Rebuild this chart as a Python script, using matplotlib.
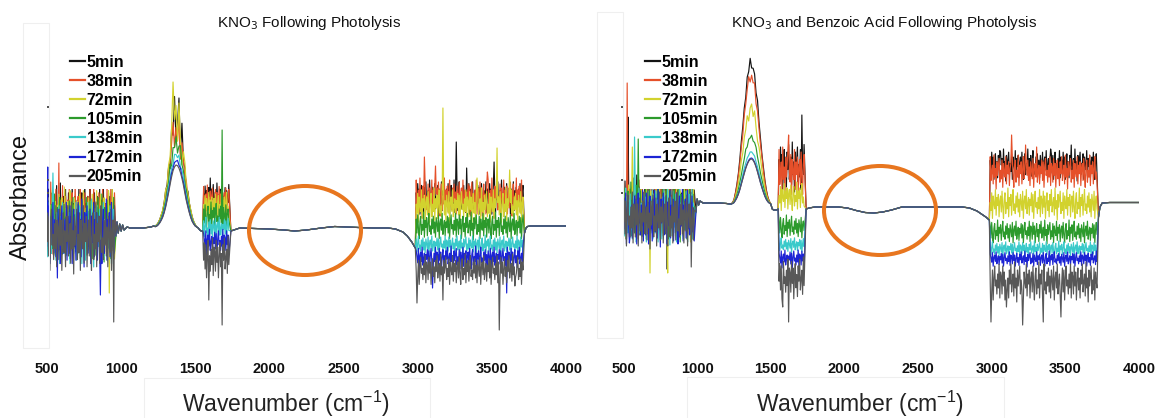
import numpy as np
import matplotlib
matplotlib.use("Agg")
import matplotlib.pyplot as plt
from matplotlib.patches import Ellipse, Rectangle

W, H = 1157, 418
plt.rcParams['font.family'] = ['Liberation Sans', 'DejaVu Sans']

# ---------------- data ----------------
SERIES = ["5min", "38min", "72min", "105min", "138min", "172min", "205min"]
COLORS = ["#141414", "#E5502A", "#D2D22E", "#2C9A2C", "#3ACACA", "#1C24D4", "#585858"]
TICKS = [500, 1000, 1500, 2000, 2500, 3000, 3500, 4000]

# hand-read jagged detector-noise pattern (shared shape of the noisy bands)
JAG = [0.3, -0.6, 0.8, -0.2, 0.5, -0.9, 0.1, 0.7, -0.4, 0.2,
       -0.8, 0.6, -0.1, 0.9, -0.5, 0.0, 0.4, -0.7, 1.0, -0.3,
       0.2, -1.0, 0.6, -0.2, 0.3, 0.8, -0.6, 0.1, -0.4, 0.7,
       -0.9, 0.5, 0.0, -0.3, 0.9, -0.7, 0.4, -0.1, 0.6, -0.8,
       0.2, 0.5, -0.5, 0.8, -0.2, -0.9, 0.3, 0.7, -0.6, 0.1,
       -0.3, 1.0, -0.8, 0.4, -0.1, 0.6, -0.7, 0.2, 0.9, -0.4,
       0.0, -0.6, 0.5, -0.2, 0.7, -0.5, 0.3, -0.8, 0.6, 0.1,
       -0.4, 0.8, -0.9, 0.2, 0.5, -0.3, 0.9, -0.6, 0.0, 0.4,
       -0.7, 0.3, -0.1, 0.7, -0.5, 0.6, -0.9, 0.2, 0.8, -0.2,
       0.1, -0.6, 0.4, -0.3, 0.9, -0.8, 0.5]
SHIFT = [0, 13, 27, 41, 55, 68, 82]

PEAK_WN = [1230, 1240, 1250, 1260, 1270, 1280, 1290, 1300, 1310, 1320,
           1330, 1340, 1350, 1360, 1370, 1380, 1390, 1400, 1410, 1420,
           1430, 1440, 1450, 1460, 1470, 1480, 1490, 1500]

# ----- left panel: KNO3 -----
L_R1 = (500, 958)
L_R1_CENTRE = [0.10, 0.10, 0.05, 0.00, -0.05, -0.05, -0.10]
L_R1_SPREAD = [0.36, 0.36, 0.36, 0.34, 0.34, 0.34, 0.36]
L_A_WN = [964, 972, 980, 990, 1000, 1010, 1020, 1040, 1060, 1100, 1150, 1200, 1220]
L_A = [-0.08, 0.06, -0.05, 0.04, -0.03, 0.03, -0.02, 0.01, 0.0, 0.0, 0.0, 0.01, 0.02]
L_PEAK_BASE = 0.0
L_PEAK_SHAPE = [0.02, 0.03, 0.05, 0.08, 0.12, 0.17, 0.24, 0.33, 0.44, 0.56,
                0.69, 0.81, 0.91, 0.97, 1.00, 0.99, 0.95, 0.88, 0.79, 0.68,
                0.55, 0.43, 0.33, 0.24, 0.16, 0.10, 0.06, 0.03]
L_PEAK_HEIGHT = [1.05, 0.98, 1.05, 0.84, 0.73, 0.67, 0.63]
L_PEAK_JAG = [0.35, 0.25, 0.35, 0.12, 0.05, 0.02, 0.0]
L_B_WN = [1510, 1520, 1530, 1540, 1550]
L_B = [0.01, 0.0, -0.02, -0.03, -0.03]
L_R2 = (1556, 1730)
L_R2_CENTRE = [0.30, 0.28, 0.22, 0.12, 0.0, -0.14, -0.30]
L_R2_SPREAD = [0.15, 0.15, 0.15, 0.14, 0.12, 0.14, 0.22]
L_C_WN = [1740, 1760, 1800, 1900, 2000, 2100, 2170, 2250, 2350, 2440, 2520, 2600,
          2700, 2800, 2850, 2900, 2930, 2960, 2984]
L_C = [-0.03, -0.02, 0.0, -0.005, -0.01, -0.02, -0.03, -0.02, 0.0, 0.015, 0.01, 0.005,
       0.0, 0.0, -0.01, -0.04, -0.08, -0.14, -0.2]
L_R3 = (2990, 3710)
L_R3_CENTRE = [0.30, 0.30, 0.22, 0.02, -0.17, -0.30, -0.42]
L_R3_SPREAD = [0.18, 0.20, 0.18, 0.14, 0.10, 0.12, 0.16]
L_D_WN = [3720, 3730, 3740, 3760, 3800, 3900, 4000]
L_D = [-0.05, 0.0, 0.015, 0.02, 0.02, 0.02, 0.02]
L_SPIKES = [(2, 3170, 1.20), (0, 3260, 0.86), (1, 3044, 0.71), (0, 3516, 0.66),
            (2, 3537, 0.80), (2, 3400, 0.50), (6, 3550, -1.02), (6, 2996, -0.75),
            (6, 3170, -0.72), (6, 3660, -0.49), (5, 3100, -0.60), (5, 3600, -0.65),
            (1, 3120, 0.62), (0, 3330, 0.60), (2, 3620, 0.58), (1, 3470, 0.56),
            (3, 1680, 0.98), (6, 1682, -0.97), (6, 1590, -0.72), (0, 1600, 0.50),
            (1, 578, 0.65), (5, 506, 0.61), (6, 952, -0.94), (2, 920, -0.65),
            (5, 860, -0.67), (5, 572, -0.50), (4, 540, 0.55), (0, 590, 0.45),
            (2, 1350, 1.46), (0, 1390, 1.30)]

# ----- right panel: KNO3 + benzoic acid -----
R_R1 = (500, 984)
R_R1_CENTRE = [0.02, 0.0, -0.05, -0.05, -0.08, -0.10, -0.12]
R_R1_SPREAD = [0.30, 0.30, 0.30, 0.30, 0.30, 0.30, 0.30]
R_A_WN = [992, 1000, 1010, 1020, 1040, 1060, 1100, 1150, 1200, 1220]
R_A = [-0.05, 0.08, 0.02, 0.06, 0.04, 0.04, 0.04, 0.04, 0.035, 0.03]
R_PEAK_BASE = 0.03
R_PEAK_SHAPE = [0.0, 0.01, 0.03, 0.08, 0.14, 0.22, 0.32, 0.44, 0.56, 0.68,
                0.79, 0.88, 0.95, 0.99, 1.00, 0.97, 0.91, 0.82, 0.71, 0.59,
                0.47, 0.36, 0.26, 0.17, 0.10, 0.05, 0.02, 0.0]
R_PEAK_HEIGHT = [1.40, 1.28, 0.95, 0.67, 0.52, 0.46, 0.45]
R_PEAK_JAG = [0.08, 0.08, 0.10, 0.03, 0.01, 0.0, 0.0]
R_B_WN = [1510, 1520, 1530, 1540, 1550]
R_B = [-0.02, -0.03, -0.03, -0.03, -0.02]
R_R2 = (1556, 1730)
R_R2_CENTRE = [0.40, 0.35, 0.10, -0.20, -0.38, -0.52, -0.72]
R_R2_SPREAD = [0.25, 0.25, 0.15, 0.12, 0.08, 0.10, 0.22]
R_C_WN = [1740, 1760, 1800, 1900, 1960, 2020, 2080, 2140, 2200, 2260, 2320, 2390,
          2500, 2600, 2700, 2800, 2850, 2900, 2930, 2960, 2984]
R_C = [-0.02, -0.01, 0.0, 0.0, 0.0, -0.01, -0.035, -0.055, -0.06, -0.05, -0.03, 0.0,
       0.0, 0.0, 0.0, 0.0, -0.01, -0.04, -0.07, -0.10, -0.13]
R_R3 = (2990, 3716)
R_R3_CENTRE = [0.42, 0.35, 0.03, -0.25, -0.42, -0.52, -0.75]
R_R3_SPREAD = [0.16, 0.17, 0.16, 0.12, 0.08, 0.08, 0.20]
R_D_WN = [3725, 3735, 3750, 3800, 3900, 4000]
R_D = [-0.10, 0.0, 0.04, 0.045, 0.045, 0.045]
R_SPIKES = [(1, 524, 1.24), (0, 530, 0.90), (4, 575, 0.70), (3, 600, 0.68),
            (2, 560, 0.60), (2, 680, -0.66), (2, 800, -0.66), (0, 795, -0.62),
            (6, 958, -0.60), (5, 540, -0.36),
            (0, 1711, 0.92), (1, 1620, 0.72), (6, 1620, -1.15), (6, 1580, -1.00),
            (1, 3135, 0.72), (0, 3542, 0.62), (1, 3305, 0.60), (0, 3400, 0.58),
            (0, 3617, 0.44), (6, 2996, -1.15), (6, 3210, -1.18), (6, 3350, -1.15),
            (6, 3470, -1.10), (6, 3100, -1.00), (1, 3230, 0.62), (0, 3060, 0.55)]

STEP = 5
JAG_A = np.asarray(JAG)


def band(window, centre, spread, k):
    x = np.arange(window[0], window[1] + 1e-9, STEP)
    idx = (np.arange(len(x)) + SHIFT[k]) % len(JAG_A)
    return x, centre[k] + spread[k] * JAG_A[idx]


def curve(k, r1, r1c, r1s, awn, a, pbase, pshape, ph, pj, bwn, b,
          r2, r2c, r2s, cwn, c, r3, r3c, r3s, dwn, d, spikes):
    shp = np.asarray(pshape)
    idx = (np.arange(len(shp)) + SHIFT[k]) % len(JAG_A)
    peak_y = pbase + ph[k] * shp + pj[k] * shp ** 2 * JAG_A[idx]
    parts = [band(r1, r1c, r1s, k), (np.asarray(awn), np.asarray(a)),
             (np.asarray(PEAK_WN), peak_y), (np.asarray(bwn), np.asarray(b)),
             band(r2, r2c, r2s, k), (np.asarray(cwn), np.asarray(c)),
             band(r3, r3c, r3s, k), (np.asarray(dwn), np.asarray(d))]
    x = np.concatenate([p[0] for p in parts]).astype(float)
    y = np.concatenate([p[1] for p in parts]).astype(float)
    for s, w, v in spikes:
        if s == k:
            y[np.argmin(np.abs(x - w))] = v
    return x, y


fig = plt.figure(figsize=(W / 100, H / 100), dpi=100)


def px_axes(x0, x1, ytop, ybot):
    return fig.add_axes([x0 / W, 1 - ybot / H, (x1 - x0) / W, (ybot - ytop) / H])


panels = [
    dict(ax=px_axes(47, 566, 20, 356), ylim=(-1.28, 2.08),
         args=(L_R1, L_R1_CENTRE, L_R1_SPREAD, L_A_WN, L_A, L_PEAK_BASE, L_PEAK_SHAPE,
               L_PEAK_HEIGHT, L_PEAK_JAG, L_B_WN, L_B, L_R2, L_R2_CENTRE, L_R2_SPREAD,
               L_C_WN, L_C, L_R3, L_R3_CENTRE, L_R3_SPREAD, L_D_WN, L_D, L_SPIKES),
         legend_x=65),
    dict(ax=px_axes(623.5, 1139, 20, 356), ylim=(-1.49, 1.87),
         args=(R_R1, R_R1_CENTRE, R_R1_SPREAD, R_A_WN, R_A, R_PEAK_BASE, R_PEAK_SHAPE,
               R_PEAK_HEIGHT, R_PEAK_JAG, R_B_WN, R_B, R_R2, R_R2_CENTRE, R_R2_SPREAD,
               R_C_WN, R_C, R_R3, R_R3_CENTRE, R_R3_SPREAD, R_D_WN, R_D, R_SPIKES),
         legend_x=640),
]

for p in panels:
    ax = p['ax']
    for k, (name, col) in enumerate(zip(SERIES, COLORS)):
        x, y = curve(k, *p['args'])
        ax.plot(x, y, color=col, lw=0.85, label=name)
    ax.set_xlim(500, 4000)
    ax.set_ylim(*p['ylim'])
    ax.set_xticks(TICKS)
    ax.set_xticklabels([str(t) for t in TICKS], fontsize=10.5, fontweight='bold',
                       color='#111111')
    ax.tick_params(axis='x', length=0, pad=4.5)
    ax.set_yticks([])
    for s in ax.spines.values():
        s.set_visible(False)
    ax.patch.set_alpha(0)
    leg = ax.legend(loc='upper left', bbox_to_anchor=(p['legend_x'] / W, 1 - 50 / H),
                    bbox_transform=fig.transFigure, frameon=True, fancybox=False,
                    framealpha=1, edgecolor='none', facecolor='white',
                    prop=dict(size=11.5, weight='bold'), handlelength=0.95,
                    handletextpad=0.1, labelspacing=0.255, borderpad=0.3,
                    borderaxespad=0)
    for line in leg.get_lines():
        line.set_linewidth(1.6)

# titles and labels
fig.text(309 / W, 1 - 23 / H, r"KNO$_3$ Following Photolysis", ha='center', va='center',
         fontsize=11, color='#111111')
fig.text(884 / W, 1 - 23 / H, r"KNO$_3$ and Benzoic Acid Following Photolysis",
         ha='center', va='center', fontsize=11, color='#111111')
fig.text(21 / W, 1 - 197 / H, "Absorbance", rotation=90, ha='center', va='center',
         fontsize=17, color='#111111')
fig.text(286 / W, 1 - 404 / H, r"Wavenumber (cm$^{\mathregular{-1}}$)", ha='center',
         va='center', fontsize=16.5, color='#222222')
fig.text(860 / W, 1 - 404 / H, r"Wavenumber (cm$^{\mathregular{-1}}$)", ha='center',
         va='center', fontsize=16.5, color='#222222')

# faint frames left over from the original layout
for (x0, y0, x1, y1) in [(23, 23, 49, 348), (597, 12, 623, 338),
                         (144, 378, 430, 420), (687, 377, 1004, 420)]:
    fig.add_artist(Rectangle((x0 / W, 1 - y1 / H), (x1 - x0) / W, (y1 - y0) / H,
                             transform=fig.transFigure, fill=False,
                             edgecolor='#efefef', lw=0.8))
for (x, y) in [(48, 107), (48, 180), (48, 193), (622, 107), (622, 180), (622, 193)]:
    fig.add_artist(Rectangle(((x - 1) / W, 1 - (y + 1) / H), 2 / W, 2 / H,
                             transform=fig.transFigure, color='#555555', lw=0))

# highlight ellipses
for (cx, cy) in [(305, 230.5), (880, 210.5)]:
    fig.add_artist(Ellipse((cx / W, 1 - cy / H), 112 / W, 89 / H,
                           transform=fig.transFigure, fill=False,
                           edgecolor='#E8761F', lw=2.9))

fig.savefig("out.png", dpi=100, facecolor='white')
